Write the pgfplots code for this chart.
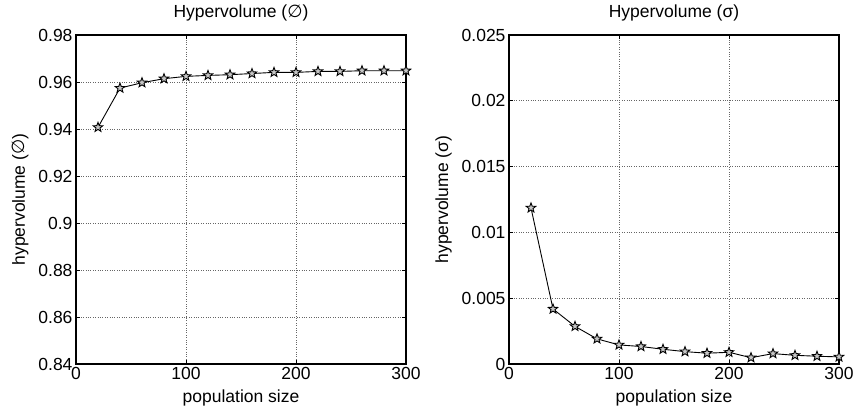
\documentclass[border=0pt]{standalone}
\usepackage{fontspec}
\setmainfont{Liberation Sans}
\newfontfamily\djv{DejaVu Sans}
\usepackage{pgfplots}
\pgfplotsset{compat=1.18}

% five-pointed star marker, like MATLAB's 'p'
\pgfdeclareplotmark{pentagram}{%
  \pgfpathmoveto{\pgfpointpolar{90}{\pgfplotmarksize}}%
  \pgfpathlineto{\pgfpointpolar{126}{0.42\pgfplotmarksize}}%
  \pgfpathlineto{\pgfpointpolar{162}{\pgfplotmarksize}}%
  \pgfpathlineto{\pgfpointpolar{198}{0.42\pgfplotmarksize}}%
  \pgfpathlineto{\pgfpointpolar{234}{\pgfplotmarksize}}%
  \pgfpathlineto{\pgfpointpolar{270}{0.42\pgfplotmarksize}}%
  \pgfpathlineto{\pgfpointpolar{306}{\pgfplotmarksize}}%
  \pgfpathlineto{\pgfpointpolar{342}{0.42\pgfplotmarksize}}%
  \pgfpathlineto{\pgfpointpolar{18}{\pgfplotmarksize}}%
  \pgfpathlineto{\pgfpointpolar{54}{0.42\pgfplotmarksize}}%
  \pgfpathclose
  \pgfusepathqfillstroke
}

\pgfplotsset{
  hvstyle/.style={
    scale only axis,
    width=330pt, height=329pt,
    xmin=0, xmax=300,
    xtick={0,100,200,300},
    xticklabels={0,100,200,300},
    scaled y ticks=false,
    grid=major,
    grid style={black!60, dotted, line width=0.7pt},
    axis line style={line width=1.2pt},
    tick align=inside,
    tick style={black, line width=0.6pt},
    major tick length=4pt,
    tick label style={font=\fontsize{17.5}{20}\selectfont},
    label style={font=\fontsize{17.5}{20}\selectfont},
    title style={font=\fontsize{17.5}{20}\selectfont, at={(0.5,1)}, anchor=south, yshift=4pt},
    xlabel={population size},
    xlabel style={yshift=-3pt},
    ylabel style={yshift=3pt},
    clip=false,
  },
  hvline/.style={black, line width=0.9pt, mark=pentagram, mark size=5pt,
    mark options={fill=gray!45, line width=0.9pt}},
}

\begin{document}
\begin{tikzpicture}
\useasboundingbox (-76pt,-48pt) rectangle (782pt,364pt);
\begin{axis}[hvstyle,
    at={(0pt,0pt)}, anchor=south west,
    ymin=0.84, ymax=0.98,
    ytick={0.84,0.86,0.88,0.9,0.92,0.94,0.96,0.98},
    yticklabels={0.84,0.86,0.88,0.9,0.92,0.94,0.96,0.98},
    title={Hypervolume ({\djv ∅})},
    ylabel={hypervolume ({\djv ∅})},
]
\addplot[hvline] coordinates {
(20,0.9407) (40,0.9574) (60,0.9597) (80,0.9614) (100,0.9624)
(120,0.9628) (140,0.9631) (160,0.9636) (180,0.9641) (200,0.9641)
(220,0.9645) (240,0.9645) (260,0.9648) (280,0.9648) (300,0.9648)};
\end{axis}
\begin{axis}[hvstyle,
    at={(433pt,0pt)}, anchor=south west,
    ymin=0, ymax=0.025,
    ytick={0,0.005,0.01,0.015,0.02,0.025},
    yticklabels={0,0.005,0.01,0.015,0.02,0.025},
    title={Hypervolume (σ)},
    ylabel={hypervolume (σ)},
]
\addplot[hvline] coordinates {
(20,0.01186) (40,0.00418) (60,0.00286) (80,0.00191) (100,0.00145)
(120,0.00133) (140,0.00112) (160,0.00094) (180,0.00082) (200,0.00089)
(220,0.00048) (240,0.00079) (260,0.00066) (280,0.00059) (300,0.00054)};
\end{axis}
\end{tikzpicture}
\end{document}
